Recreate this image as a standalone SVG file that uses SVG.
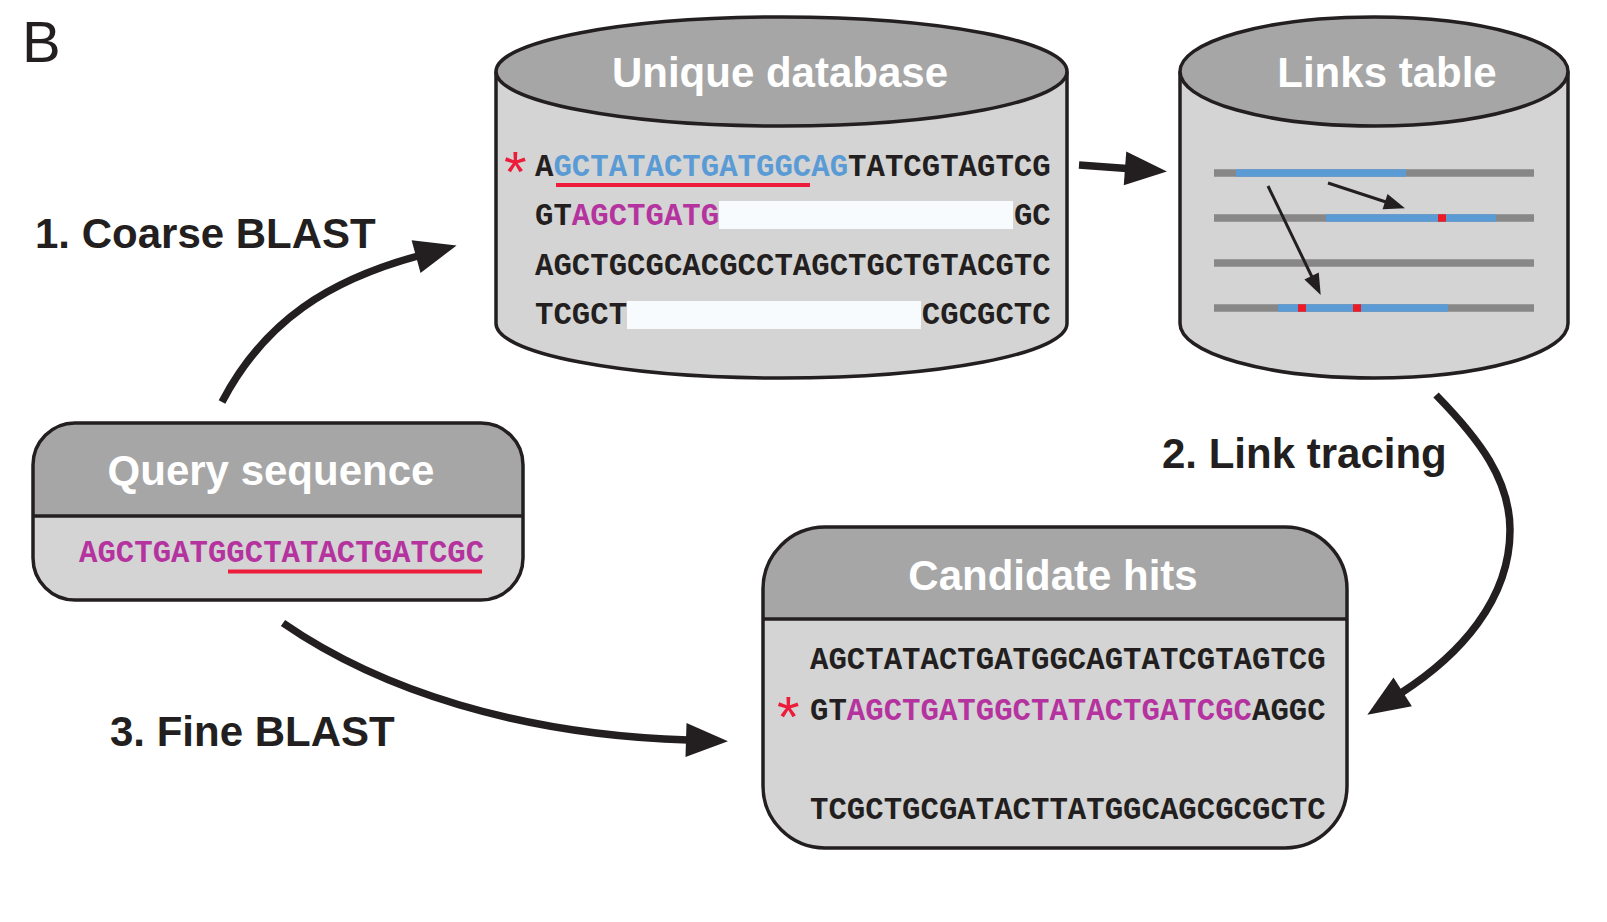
<svg xmlns="http://www.w3.org/2000/svg" width="1607" height="922" viewBox="0 0 1607 922">
<style>
.hdr{fill:#a6a6a6}
.body{fill:#d4d4d4}
.edge{fill:none;stroke:#231f20;stroke-width:3.5}
.title{font-family:"Liberation Sans",Arial,sans-serif;font-weight:bold;font-size:42px;fill:#ffffff;text-anchor:middle}
.step{font-family:"Liberation Sans",Arial,sans-serif;font-weight:bold;font-size:42px;fill:#231f20}
.seq{font-family:"Liberation Mono","Courier New",monospace;font-weight:bold;font-size:30.7px;fill:#231f20}
.blue{fill:#5b9bd5}
.mag{fill:#b5339f}
.star{font-family:"Liberation Sans",Arial,sans-serif;font-size:58px;fill:#ed1c3a}
.ul{stroke:#ed1c3a;stroke-width:4}
.gline{stroke:#878787;stroke-width:7.5}
.bline{stroke:#5b9bd5;stroke-width:7.5}
.rline{stroke:#ed1c24;stroke-width:7.5}
.mask{fill:#f8fbfd}
.conn{fill:none;stroke:#231f20;stroke-width:7.5}
.thin{fill:none;stroke:#231f20;stroke-width:3}
</style>
<defs>
<marker id="ah" markerUnits="userSpaceOnUse" markerWidth="48" markerHeight="40" viewBox="-4 -20 48 40" refX="0" refY="0" orient="auto">
<path d="M-2,-17 L40,0 L-2,17 Z" fill="#231f20"/>
</marker>
<marker id="ahs" markerUnits="userSpaceOnUse" markerWidth="26" markerHeight="20" viewBox="-3 -10 26 20" refX="0" refY="0" orient="auto">
<path d="M-1,-8 L20,0 L-1,8 Z" fill="#231f20"/>
</marker>
</defs>

<text id="panel-label" x="22" y="62" font-family="Liberation Sans, Arial, sans-serif" font-size="58" fill="#231f20">B</text>

<g id="query-sequence">
<rect class="body" x="33" y="423" width="490" height="177" rx="42"/>
<path class="hdr" d="M33,516 L33,465 A42,42 0 0 1 75,423 L481,423 A42,42 0 0 1 523,465 L523,516 Z"/>
<rect class="edge" x="33" y="423" width="490" height="177" rx="42"/>
<line class="edge" x1="33" y1="516" x2="523" y2="516"/>
<text class="title" x="271" y="485">Query sequence</text>
<text class="seq mag" x="79" y="562">AGCTGATGGCTATACTGATCGC</text>
<line class="ul" x1="228" y1="571.5" x2="482" y2="571.5"/>
</g>

<g id="unique-database">
<path class="body" d="M496,71.5 L496,323.5 A285.5,54.5 0 0 0 1067,323.5 L1067,71.5 Z"/>
<path class="edge" d="M496,71.5 L496,323.5 A285.5,54.5 0 0 0 1067,323.5 L1067,71.5"/>
<ellipse class="hdr" cx="781.5" cy="71.5" rx="285.5" ry="54.5"/>
<ellipse class="edge" cx="781.5" cy="71.5" rx="285.5" ry="54.5"/>
<text class="title" x="780" y="87">Unique database</text>
<text class="star" x="504" y="192">*</text>
<text class="seq" x="535" y="176">A<tspan class="blue">GCTATACTGATGGCAG</tspan>TATCGTAGTCG</text>
<line class="ul" x1="556" y1="185" x2="810" y2="185"/>
<text class="seq" x="535" y="225">GT<tspan class="mag">AGCTGATG</tspan></text>
<rect class="mask" x="719" y="201" width="294" height="28"/>
<text class="seq" x="1013.9" y="225">GC</text>
<text class="seq" x="535" y="275">AGCTGCGCACGCCTAGCTGCTGTACGTC</text>
<text class="seq" x="535" y="324">TCGCT</text>
<rect class="mask" x="627" y="301" width="294" height="28"/>
<text class="seq" x="921.8" y="324">CGCGCTC</text>
</g>

<g id="links-table">
<path class="body" d="M1180,71.5 L1180,323.5 A194,54.5 0 0 0 1568,323.5 L1568,71.5 Z"/>
<path class="edge" d="M1180,71.5 L1180,323.5 A194,54.5 0 0 0 1568,323.5 L1568,71.5"/>
<ellipse class="hdr" cx="1374" cy="71.5" rx="194" ry="54.5"/>
<ellipse class="edge" cx="1374" cy="71.5" rx="194" ry="54.5"/>
<text class="title" x="1387" y="87">Links table</text>
<line class="gline" x1="1214" y1="173" x2="1534" y2="173"/>
<line class="bline" x1="1236" y1="173" x2="1406" y2="173"/>
<line class="gline" x1="1214" y1="218" x2="1534" y2="218"/>
<line class="bline" x1="1326" y1="218" x2="1496" y2="218"/>
<line class="rline" x1="1438" y1="218" x2="1446" y2="218"/>
<line class="gline" x1="1214" y1="263" x2="1534" y2="263"/>
<line class="gline" x1="1214" y1="308" x2="1534" y2="308"/>
<line class="bline" x1="1278" y1="308" x2="1448" y2="308"/>
<line class="rline" x1="1298" y1="308" x2="1306" y2="308"/>
<line class="rline" x1="1353" y1="308" x2="1361" y2="308"/>
<path class="thin" d="M1328,183 L1386,202" marker-end="url(#ahs)"/>
<path class="thin" d="M1268,186 L1312,277" marker-end="url(#ahs)"/>
</g>

<g id="candidate-hits">
<rect class="body" x="763" y="527" width="584" height="321" rx="62"/>
<path class="hdr" d="M763,619 L763,589 A62,62 0 0 1 825,527 L1285,527 A62,62 0 0 1 1347,589 L1347,619 Z"/>
<rect class="edge" x="763" y="527" width="584" height="321" rx="62"/>
<line class="edge" x1="763" y1="619" x2="1347" y2="619"/>
<text class="title" x="1053" y="590">Candidate hits</text>
<text class="seq" x="810" y="669">AGCTATACTGATGGCAGTATCGTAGTCG</text>
<text class="star" x="777" y="737">*</text>
<text class="seq" x="810" y="720">GT<tspan class="mag">AGCTGATGGCTATACTGATCGC</tspan>AGGC</text>
<text class="seq" x="810" y="819">TCGCTGCGATACTTATGGCAGCGCGCTC</text>
</g>

<g id="connectors">
<path class="conn" d="M222,402 C265,320 330,280 418,256" marker-end="url(#ah)"/>
<path class="conn" d="M1079,165 L1127,168.5" marker-end="url(#ah)"/>
<path class="conn" d="M1436,395 C1480,440 1510,480 1510,530 C1510,600 1460,655 1401,693" marker-end="url(#ah)"/>
<path class="conn" d="M283,623 C380,690 520,735 688,740" marker-end="url(#ah)"/>
</g>

<g id="step-labels">
<text class="step" x="35" y="248">1. Coarse BLAST</text>
<text class="step" x="1162" y="468">2. Link tracing</text>
<text class="step" x="110" y="746">3. Fine BLAST</text>
</g>
</svg>
